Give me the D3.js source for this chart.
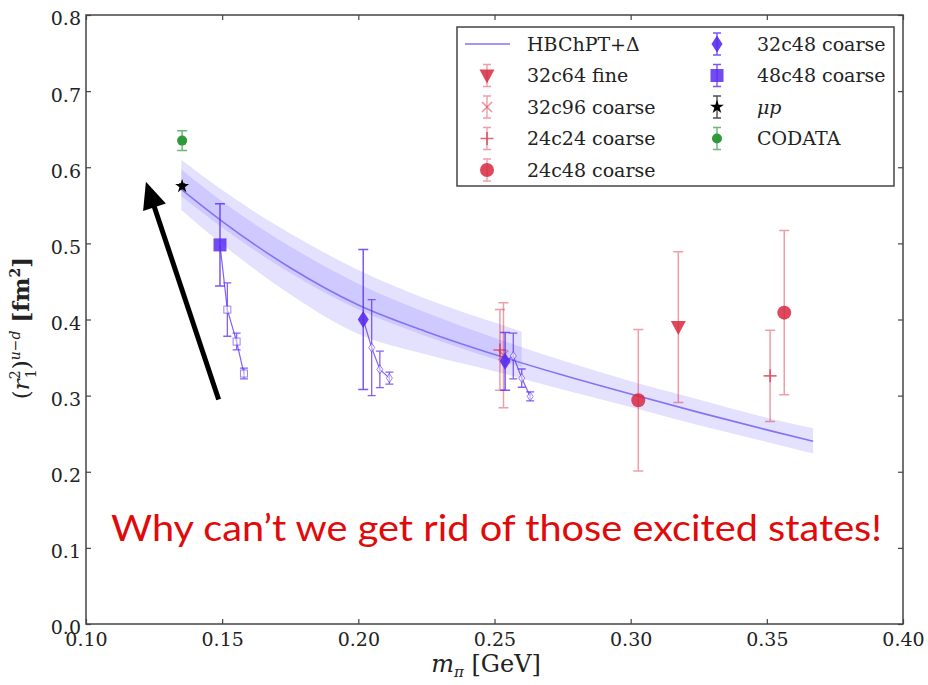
<!DOCTYPE html>
<html><head><meta charset="utf-8">
<script src="https://cdn.jsdelivr.net/npm/d3@7"></script>
<style>body{margin:0;background:#fff} svg{display:block}</style>
</head><body>
<svg id="c" width="928" height="685"></svg>
<script>
// ---------- data ----------
const xTicks = [0.10, 0.15, 0.20, 0.25, 0.30, 0.35, 0.40];
const yTicks = [0.0, 0.1, 0.2, 0.3, 0.4, 0.5, 0.6, 0.7, 0.8];

// HBChPT+Delta fit curve and error bands
const fitX    = [0.135, 0.15, 0.175, 0.20, 0.225, 0.25, 0.275, 0.30, 0.325, 0.35, 0.367];
const fitY    = [0.571, 0.529, 0.468, 0.419, 0.384, 0.354, 0.327, 0.302, 0.278, 0.255, 0.240];
const bandALo = [0.544, 0.499, 0.433, 0.381, 0.354, 0.332, 0.308, 0.285, 0.261, 0.239, 0.224];
const bandAHi = [0.597, 0.555, 0.496, 0.447, 0.409, 0.376, 0.346, 0.319, 0.295, 0.271, 0.257];
const bandBX  = [0.135, 0.15, 0.175, 0.20, 0.225, 0.25, 0.26];
const bandBLo = [0.562, 0.521, 0.461, 0.413, 0.378, 0.348, 0.337];
const bandBHi = [0.610, 0.570, 0.513, 0.465, 0.427, 0.396, 0.384];

// lattice ensembles
const fine32c64X = [0.3175], fine32c64Y = [0.390], fine32c64E = [0.099];
const c32c96X = [0.2533], c32c96Y = [0.353], c32c96E = [0.069];
const c24c24X = [0.2520, 0.3512], c24c24Y = [0.360, 0.326], c24c24E = [0.053, 0.060];
const c24c48X = [0.3028, 0.3564], c24c48Y = [0.294, 0.409], c24c48E = [0.093, 0.108];
const c32c48X = [0.2018, 0.2539], c32c48Y = [0.400, 0.345], c32c48E = [0.092, 0.038];
const c48c48X = [0.1492], c48c48Y = [0.498], c48c48E = [0.054];
const muPX = [0.1353], muPY = [0.575], muPE = [0.003];
const codataX = [0.1353], codataY = [0.635], codataE = [0.013];

// excited-state sequences (open markers, joined to their main point)
const exc48X  = [0.1519, 0.1553, 0.1580], exc48Y  = [0.413, 0.371, 0.329], exc48E  = [0.035, 0.011, 0.007];
const exc32aX = [0.2049, 0.2079, 0.2114], exc32aY = [0.363, 0.3345, 0.323], exc32aE = [0.063, 0.024, 0.008];
const exc32bX = [0.2569, 0.2600, 0.2631], exc32bY = [0.352, 0.323, 0.299], exc32bE = [0.030, 0.012, 0.006];

// annotation arrow (data coordinates: tail, tip)
const arrowX = [0.1487, 0.1220], arrowY = [0.295, 0.581];

// ---------- drawing ----------
const svg = d3.select("#c");
const x = d3.scaleLinear().domain([0.10, 0.40]).range([86, 903]);
const y = d3.scaleLinear().domain([0.0, 0.8]).range([624, 15]);

const RED = "#d8283f", BLUE = "#5a2cf0", LINE = "#8374f7", BAND = "rgb(120,105,255)";
const serif = "'DejaVu Serif', serif";

// bands
const areaA = d3.area().x((d,i)=>x(fitX[i])).y0((d,i)=>y(bandALo[i])).y1((d,i)=>y(bandAHi[i])).curve(d3.curveMonotoneX);
const areaB = d3.area().x((d,i)=>x(bandBX[i])).y0((d,i)=>y(bandBLo[i])).y1((d,i)=>y(bandBHi[i])).curve(d3.curveMonotoneX);
svg.append("path").attr("d", areaA(fitX)).attr("fill", BAND).attr("fill-opacity", 0.2);
svg.append("path").attr("d", areaB(bandBX)).attr("fill", BAND).attr("fill-opacity", 0.2);
const fitLine = d3.line().x((d,i)=>x(fitX[i])).y((d,i)=>y(fitY[i])).curve(d3.curveMonotoneX);
svg.append("path").attr("d", fitLine(fitX)).attr("fill","none").attr("stroke", LINE).attr("stroke-width", 1.6);

// marker helper
function marker(g, type, cx, cy, color, op) {
  op = op == null ? 1 : op;
  if (type === "tri") {
    g.append("path").attr("d", `M${cx-7.5},${cy-6}L${cx+7.5},${cy-6}L${cx},${cy+8}Z`).attr("fill", color).attr("fill-opacity", op);
  } else if (type === "x") {
    g.append("path").attr("d", `M${cx-5},${cy-5}L${cx+5},${cy+5}M${cx-5},${cy+5}L${cx+5},${cy-5}`).attr("stroke", color).attr("stroke-opacity", op).attr("stroke-width", 1.5);
  } else if (type === "plus") {
    g.append("path").attr("d", `M${cx-6.5},${cy}L${cx+6.5},${cy}M${cx},${cy-6.5}L${cx},${cy+6.5}`).attr("stroke", color).attr("stroke-opacity", op).attr("stroke-width", 1.6);
  } else if (type === "circle") {
    g.append("circle").attr("cx", cx).attr("cy", cy).attr("r", 7).attr("fill", color).attr("fill-opacity", op);
  } else if (type === "diamond") {
    g.append("path").attr("d", `M${cx},${cy-8.5}L${cx+5.5},${cy}L${cx},${cy+8.5}L${cx-5.5},${cy}Z`).attr("fill", color).attr("fill-opacity", op);
  } else if (type === "square") {
    g.append("rect").attr("x", cx-6.5).attr("y", cy-6.5).attr("width", 13).attr("height", 13).attr("fill", color).attr("fill-opacity", op);
  } else if (type === "star") {
    g.append("path").attr("d", d3.symbol(d3.symbolStar, 60)()).attr("transform", `translate(${cx},${cy})`).attr("fill", color);
  } else if (type === "dot") {
    g.append("circle").attr("cx", cx).attr("cy", cy).attr("r", 5).attr("fill", color);
  } else if (type === "osquare") {
    g.append("rect").attr("x", cx-3.5).attr("y", cy-3.5).attr("width", 7).attr("height", 7).attr("fill", "#fff").attr("fill-opacity", 0.6).attr("stroke", color).attr("stroke-opacity", op).attr("stroke-width", 1);
  } else if (type === "odiamond") {
    g.append("path").attr("d", `M${cx},${cy-4.5}L${cx+3},${cy}L${cx},${cy+4.5}L${cx-3},${cy}Z`).attr("fill", "#fff").attr("fill-opacity", 0.6).attr("stroke", color).attr("stroke-opacity", op).attr("stroke-width", 1);
  }
}
function errbar(g, cx, y0, y1, color, op, cap, sw) {
  g.append("path").attr("d", `M${cx},${y0}L${cx},${y1}M${cx-cap},${y0}L${cx+cap},${y0}M${cx-cap},${y1}L${cx+cap},${y1}`)
    .attr("stroke", color).attr("stroke-opacity", op).attr("stroke-width", sw || 1.5).attr("fill", "none");
}
function series(X, Y, E, type, color, barOp, mOp, cap) {
  const g = svg.append("g");
  X.forEach((xv, i) => {
    errbar(g, x(xv), y(Y[i] + E[i]), y(Y[i] - E[i]), color, barOp, cap);
    marker(g, type, x(xv), y(Y[i]), color, mOp);
  });
}
function excited(mainX, mainY, X, Y, E, type) {
  const g = svg.append("g");
  const lx = [mainX].concat(X), ly = [mainY].concat(Y);
  g.append("path").attr("d", d3.line().x((d,i)=>x(lx[i])).y((d,i)=>y(ly[i]))(lx))
    .attr("fill","none").attr("stroke", BLUE).attr("stroke-opacity", 0.75).attr("stroke-width", 1.2);
  X.forEach((xv, i) => {
    errbar(g, x(xv), y(Y[i] + E[i]), y(Y[i] - E[i]), BLUE, 0.75, 4, 1.3);
    marker(g, type, x(xv), y(Y[i]), BLUE, 0.6);
  });
}

// excited-state sequences
excited(c48c48X[0], c48c48Y[0], exc48X, exc48Y, exc48E, "osquare");
excited(c32c48X[0], c32c48Y[0], exc32aX, exc32aY, exc32aE, "odiamond");
excited(c32c48X[1], c32c48Y[1], exc32bX, exc32bY, exc32bE, "odiamond");

// red ensembles
series(c24c24X, c24c24Y, c24c24E, "plus", RED, 0.45, 0.7, 5);
series(c32c96X, c32c96Y, c32c96E, "x", RED, 0.45, 0.5, 5);
series(fine32c64X, fine32c64Y, fine32c64E, "tri", RED, 0.45, 0.85, 5);
series(c24c48X, c24c48Y, c24c48E, "circle", RED, 0.45, 0.85, 5);
// blue ensembles
series(c32c48X, c32c48Y, c32c48E, "diamond", BLUE, 0.8, 0.9, 5);
series(c48c48X, c48c48Y, c48c48E, "square", BLUE, 0.8, 0.85, 5);
// physical points
series(muPX, muPY, muPE, "star", "#000", 1, 1, 3);
series(codataX, codataY, codataE, "dot", "#2e9a3a", 0.7, 1, 5);

// frame + axes
const axG = svg.append("g").attr("font-family", serif);
axG.append("g").attr("transform", "translate(0,624)")
  .call(d3.axisBottom(x).tickValues(xTicks).tickFormat(d3.format(".2f")).tickSizeInner(-5).tickSizeOuter(0).tickPadding(9));
axG.append("g").attr("transform", "translate(0,15)")
  .call(d3.axisTop(x).tickValues(xTicks).tickFormat("").tickSizeInner(-5).tickSizeOuter(0));
const yAx = axG.append("g").attr("transform", "translate(86,0)")
  .call(d3.axisLeft(y).tickValues(yTicks).tickFormat(d3.format(".1f")).tickSizeInner(-5).tickSizeOuter(0).tickPadding(5));
axG.append("g").attr("transform", "translate(903,0)")
  .call(d3.axisRight(y).tickValues(yTicks).tickFormat("").tickSizeInner(-5).tickSizeOuter(0));
axG.selectAll(".domain").remove();
axG.selectAll(".tick line").attr("stroke", "#444").attr("stroke-width", 1.2);
axG.selectAll("text").attr("font-size", 19).attr("fill", "#222").attr("font-family", serif);
yAx.selectAll(".tick text").attr("dy", "0.52em");
svg.append("rect").attr("x", 86).attr("y", 15).attr("width", 903-86).attr("height", 624-15)
  .attr("fill", "none").attr("stroke", "#444").attr("stroke-width", 1.5);

// axis labels
const xl = svg.append("text").attr("x", 486).attr("y", 672).attr("text-anchor", "middle")
  .attr("font-family", serif).attr("font-size", 24).attr("fill", "#222");
xl.append("tspan").attr("font-style", "italic").text("m");
xl.append("tspan").attr("font-style", "italic").attr("font-size", 15).attr("dy", 5).text("π");
xl.append("tspan").attr("dy", -5).text(" [GeV]");

const yl = svg.append("text").attr("transform", "translate(29,328) rotate(-90)").attr("text-anchor", "middle")
  .attr("font-family", serif).attr("font-size", 23).attr("fill", "#222");
yl.append("tspan").text("(");
yl.append("tspan").attr("font-style", "italic").text("r");
yl.append("tspan").attr("font-size", 14).attr("dy", -9).text("2");
yl.append("tspan").attr("font-size", 14).attr("dx", -8).attr("dy", 16).text("1");
yl.append("tspan").attr("dy", -7).text(")");
yl.append("tspan").attr("font-size", 14).attr("font-style", "italic").attr("dy", -9).text("u−d");
yl.append("tspan").attr("dy", 9).attr("font-weight", "bold").text(" [fm");
yl.append("tspan").attr("font-size", 14).attr("font-weight", "bold").attr("dy", -9).text("2");
yl.append("tspan").attr("dy", 9).attr("font-weight", "bold").text("]");

// arrow annotation
const ax0 = x(arrowX[0]), ay0 = y(arrowY[0]), ax1 = x(arrowX[1]), ay1 = y(arrowY[1]);
const len = Math.hypot(ax1-ax0, ay1-ay0), ux = (ax1-ax0)/len, uy = (ay1-ay0)/len;
const hl = 27, hw = 12;
const bx = ax1 - hl*ux, by = ay1 - hl*uy;
svg.append("line").attr("x1", ax0).attr("y1", ay0).attr("x2", bx + 3*ux).attr("y2", by + 3*uy)
  .attr("stroke", "#000").attr("stroke-width", 5);
svg.append("path").attr("d", `M${ax1},${ay1}L${bx - hw*uy},${by + hw*ux}L${bx + hw*uy},${by - hw*ux}Z`).attr("fill", "#000");

// legend
const lg = svg.append("g").attr("font-family", serif).attr("font-size", 19).attr("fill", "#222");
lg.append("rect").attr("x", 457).attr("y", 27).attr("width", 437).attr("height", 159)
  .attr("fill", "#fff").attr("stroke", "#444").attr("stroke-width", 1.5);
const rowY = i => 44 + i * 31.5;
const legendItems = [
  {col:0,row:0,type:"line",label:"HBChPT+Δ"},
  {col:0,row:1,type:"tri",color:RED,op:0.85,bar:0.45,label:"32c64 fine"},
  {col:0,row:2,type:"x",color:RED,op:0.5,bar:0.45,label:"32c96 coarse"},
  {col:0,row:3,type:"plus",color:RED,op:0.7,bar:0.45,label:"24c24 coarse"},
  {col:0,row:4,type:"circle",color:RED,op:0.85,bar:0.45,label:"24c48 coarse"},
  {col:1,row:0,type:"diamond",color:BLUE,op:0.9,bar:0.8,label:"32c48 coarse"},
  {col:1,row:1,type:"square",color:BLUE,op:0.85,bar:0.8,label:"48c48 coarse"},
  {col:1,row:2,type:"star",color:"#000",op:1,bar:0.7,label:"μp",italic:true},
  {col:1,row:3,type:"dot",color:"#2e9a3a",op:1,bar:0.7,label:"CODATA"}
];
legendItems.forEach(it => {
  const hx = it.col === 0 ? 487 : 717, tx = it.col === 0 ? 527 : 757, cy = rowY(it.row);
  if (it.type === "line") {
    lg.append("line").attr("x1", 465).attr("x2", 510).attr("y1", cy).attr("y2", cy).attr("stroke", LINE).attr("stroke-width", 1.6);
  } else {
    errbar(lg, hx, cy - 11, cy + 11, it.color, it.bar, 4, 1.4);
    marker(lg, it.type, hx, cy, it.color, it.op);
  }
  lg.append("text").attr("x", tx).attr("y", cy).attr("dy", "0.36em")
    .attr("font-style", it.italic ? "italic" : null).text(it.label);
});

// red annotation text
svg.append("text").attr("x", 111).attr("y", 541)
  .attr("font-family", "Lato, 'Open Sans', sans-serif").attr("font-size", 37).attr("fill", "#e10a0a")
  .attr("textLength", 771).attr("lengthAdjust", "spacingAndGlyphs")
  .text("Why can’t we get rid of those excited states!");
</script>
</body></html>
